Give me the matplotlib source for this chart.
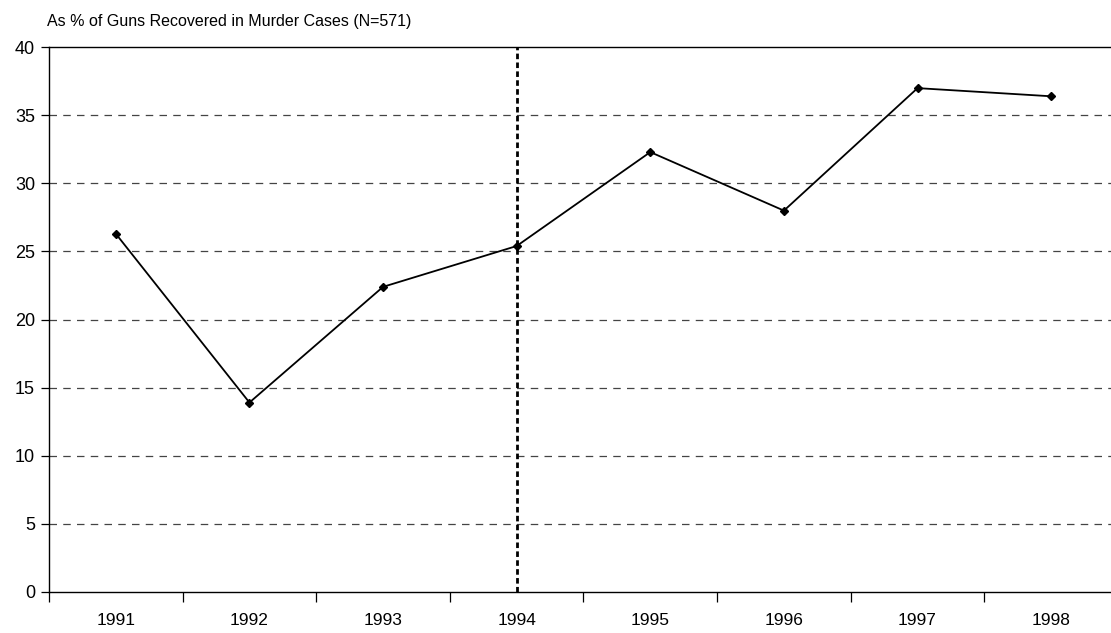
import numpy as np
from matplotlib import pyplot as plt

plt.rcParams['font.family'] = ['Liberation Sans', 'DejaVu Sans']

# data
years = ['1991', '1992', '1993', '1994', '1995', '1996', '1997', '1998']
pct_recovered = [26.3, 13.9, 22.4, 25.4, 32.3, 28.0, 37.0, 36.4]
marker_year = '1994'
y_ticks = [0, 5, 10, 15, 20, 25, 30, 35, 40]

fig = plt.figure(figsize=(11.11, 6.33), dpi=100)
ax = fig.add_axes([0.0441, 0.0652, 0.9622, 0.8601])

x = np.arange(len(years))
ax.plot(x, pct_recovered, color='black', lw=1.3, marker='D', ms=4.5, zorder=4)

# horizontal dashed gridlines
for v in y_ticks[1:-1]:
    ax.axhline(v, color='#444444', lw=0.9, ls=(0, (6, 5)), zorder=1)

# vertical line at 1994
ax.axvline(years.index(marker_year), color='black', lw=2.0, ls=(0, (2, 1.2)), zorder=3)

ax.set_xlim(-0.5, len(years) - 0.5)
ax.set_ylim(0, 40)
ax.set_yticks(y_ticks)
ax.set_yticklabels([str(v) for v in y_ticks], fontsize=13)

# category labels between boundary ticks
ax.set_xticks(np.arange(len(years) + 1) - 0.5)
ax.set_xticklabels([])
ax.set_xticks(x, minor=True)
ax.set_xticklabels(years, minor=True, fontsize=12.5)
ax.tick_params(axis='x', which='minor', length=0, pad=15)
ax.tick_params(axis='x', which='major', length=7, direction='out', width=0.9)
ax.tick_params(axis='y', length=6, direction='out', width=0.9, pad=4)

for s in ax.spines.values():
    s.set_linewidth(1.0)
    s.set_color('black')

fig.text(0.0423, 0.966, 'As % of Guns Recovered in Murder Cases (N=571)',
         fontsize=11.5, ha='left', va='center')

fig.savefig('out.png', dpi=100)
plt.close(fig)
